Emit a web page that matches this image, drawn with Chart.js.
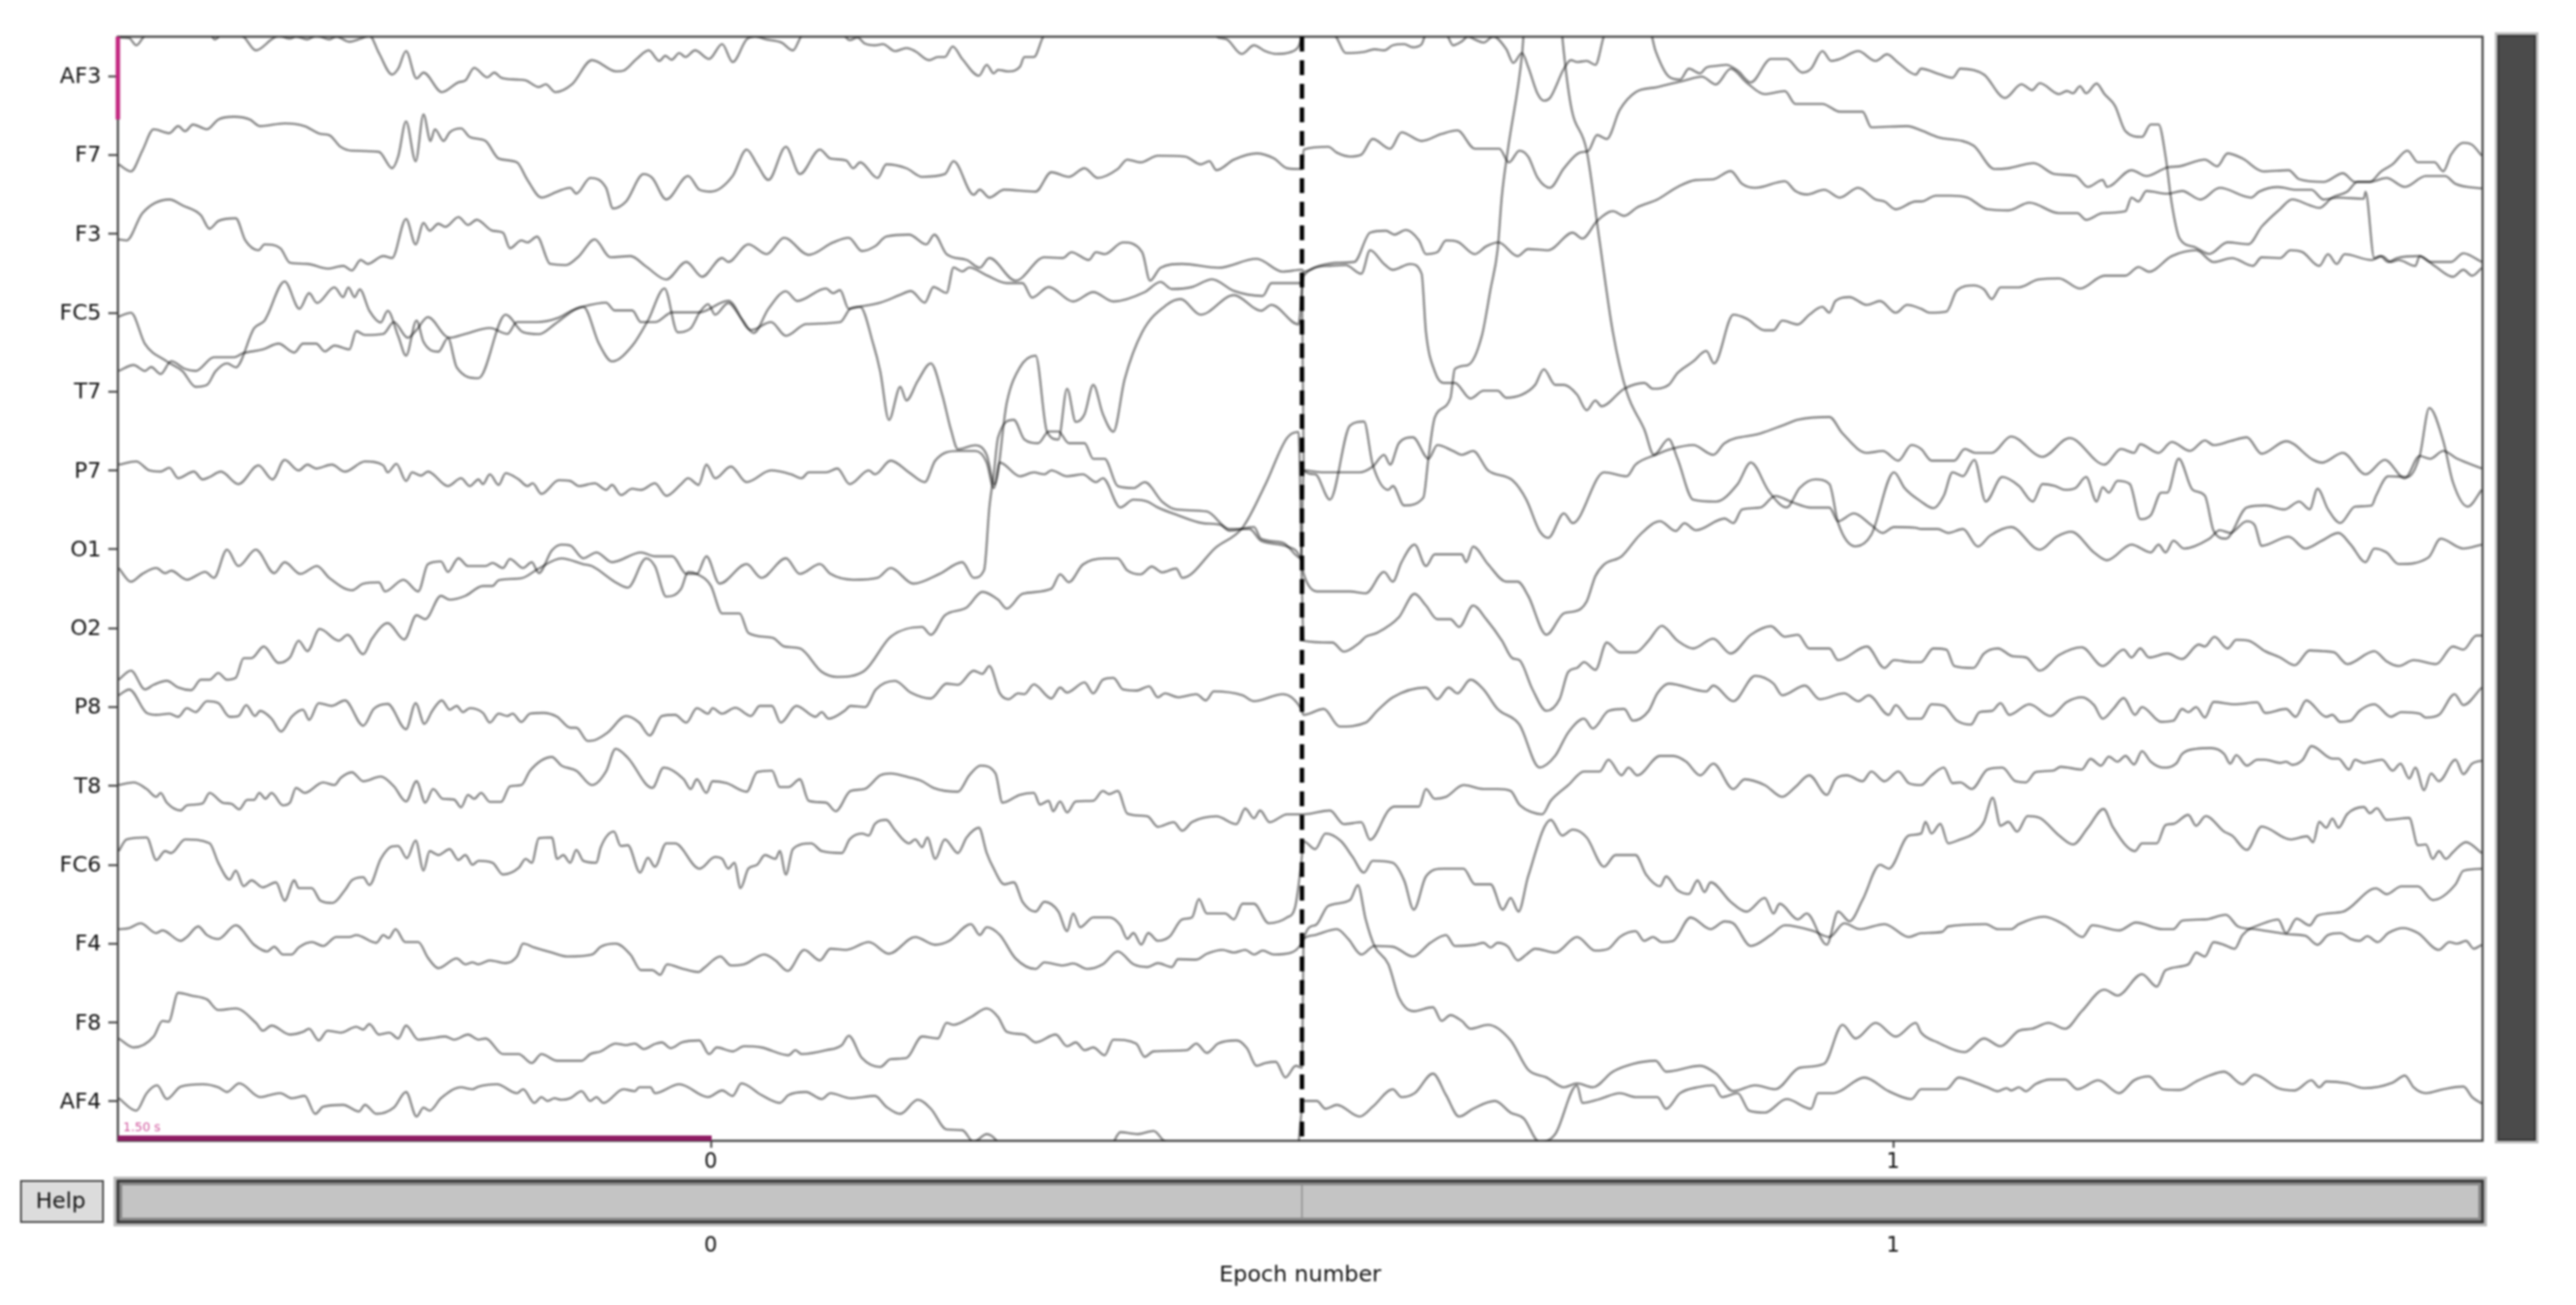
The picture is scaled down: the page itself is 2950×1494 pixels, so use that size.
<!DOCTYPE html>
<html>
<head>
<meta charset="utf-8">
<title>Epochs</title>
<script src="https://cdn.jsdelivr.net/npm/chart.js@4"></script>
<style>
body { margin: 0; background: #fff; width: 2950px; height: 1494px; overflow: hidden; position: relative; font-family: "DejaVu Sans", sans-serif; }
canvas { position: absolute; left: 0; filter: blur(0.9px); }
#eeg { top: 0; }
#slider { top: 1340px; }
#help { position: absolute; left: 23px; top: 1351px; width: 89px; height: 45px; line-height: 43px; padding-right: 3px; background: #dcdcdc; border: 2px solid #444; text-align: center; font-size: 25px; color: #111; filter: blur(0.8px); }
#scroll { position: absolute; left: 2860px; top: 40px; width: 40px; height: 1262px; background: #4b4b4b; border: 2px solid #333; outline: 3px solid #bdbdbd; filter: blur(0.9px); }
</style>
</head>
<body>
<canvas id="eeg" width="2950" height="1340"></canvas>
<canvas id="slider" width="2950" height="154"></canvas>
<div id="help">Help</div>
<div id="scroll"></div>
<script>
// traces are [sample, uV] pairs, sample rate about 451/s, 2 epochs of 3 s
var channels = ["AF3","F7","F3","FC5","T7","P7","O1","O2","P8","T8","FC6","F4","F8","AF4"];
var epochLabels = ["0","1"];
var epochCenters = [679, 2033];
var epochBoundary = 1356;
var totalSamples = 2708;
var scaleBarSamples = 680;
var scaleBarUv = 212;
var scaleBarText = "1.50 s";
var channelStep = 202.2;

var AF3 = [[1,99],[13,97],[21,79],[31,104],[41,109],[105,109],[111,94],[120,109],[143,102],[158,66],[176,94],[184,104],[197,96],[204,102],[217,94],[227,104],[242,94],[250,102],[265,88],[278,96],[288,104],[299,59],[314,4],[321,19],[330,64],[342,-6],[350,9],[371,-41],[390,-16],[398,-11],[408,21],[423,-3],[431,9],[439,-4],[457,-9],[467,-11],[482,-28],[490,-21],[501,-41],[520,-21],[543,41],[571,12],[579,14],[594,44],[608,66],[620,39],[627,52],[634,42],[643,59],[650,49],[661,66],
[664,64],[677,44],[692,82],[704,36],[720,94],[730,102],[743,94],[760,86],[773,66],[784,104],[829,109],[838,92],[847,99],[855,84],[867,79],[876,82],[890,64],[903,72],[913,64],[929,41],[939,49],[947,49],[956,76],[967,44],[986,1],[995,29],[1003,7],[1008,16],[1020,12],[1033,24],[1038,49],[1049,49],[1060,102],[1069,114],[1253,114],[1260,99],[1270,94],[1287,57],[1301,79],[1314,64],[1326,57],[1342,61],[1352,76],[1356,102],
[1357,109],[1386,114],[1395,101],[1406,59],[1427,62],[1439,69],[1450,66],[1460,79],[1473,82],[1483,74],[1493,82],[1498,106],[1521,106],[1529,79],[1539,89],[1546,102],[1554,94],[1564,86],[1575,102],[1590,69],[1598,34],[1608,59],[1615,24],[1626,-46],[1633,-63],[1640,-56],[1656,19],[1664,41],[1671,36],[1682,39],[1692,29],[1702,104],[1707,124],[1753,124],[1761,64],[1776,-1],[1789,-9],[1799,19],[1812,7],[1819,22],[1830,26],[1842,29],[1855,14],[1870,-16],[1893,44],[1911,44],[1929,9],[1939,19],[1952,64],[1962,39],[1972,44],[1993,64],[2013,39],[2026,56],[2039,34],[2059,4],
[2065,19],[2087,4],[2101,-4],[2110,19],[2137,4],[2161,-56],[2180,-21],[2192,-36],[2201,-18],[2223,-46],[2232,-38],[2239,-44],[2247,-26],[2254,-44],[2266,-19],[2275,-46],[2287,-76],[2299,-141],[2318,-156],[2328,-124],[2337,-124],[2345,-206],[2352,-326],[2361,-416],[2378,-438],[2395,-456],[2416,-426],[2440,-431],[2455,-386],[2476,-341],[2490,-316],[2510,-331],[2521,-338],[2536,-311],[2553,-296],[2565,-271],[2579,-271],[2591,-246],[2605,-226],[2622,-191],[2634,-221],[2653,-221],[2663,-244],[2672,-201],[2686,-171],[2696,-176],[2707,-204]];

var F7 = [[1,-24],[15,-42],[28,11],[41,66],[59,56],[69,74],[77,61],[86,78],[102,66],[115,91],[133,98],[151,91],[163,74],[191,81],[214,74],[232,54],[242,51],[255,21],[268,11],[299,8],[314,-34],[321,-4],[330,86],[341,-16],[350,104],[358,36],[363,66],[373,36],[380,58],[393,68],[403,46],[421,36],[436,-9],[457,-19],[469,-64],[485,-109],[503,-94],[518,-84],[525,-99],[541,-59],[559,-84],[567,-137],[582,-119],[602,-49],[612,-59],
[628,-114],[653,-54],[666,-89],[679,-94],[704,-54],[720,14],[732,-24],[745,-64],[765,21],[781,-49],[804,14],[816,-9],[834,-14],[842,-34],[850,-19],[870,-59],[880,-24],[903,-34],[921,-56],[947,-49],[957,-16],[980,-102],[987,-89],[998,-109],[1015,-89],[1051,-94],[1069,-44],[1089,-56],[1107,-34],[1122,-59],[1145,-36],[1156,-12],[1171,-19],[1191,-2],[1222,-4],[1240,-24],[1250,-16],[1258,-39],[1278,-12],[1304,4],[1324,-9],[1339,-34],[1356,-36],
[1358,14],[1386,21],[1396,6],[1411,-4],[1424,1],[1437,41],[1457,16],[1470,58],[1493,36],[1516,54],[1534,63],[1554,16],[1582,16],[1593,-19],[1605,11],[1615,-4],[1626,-59],[1640,-84],[1656,-34],[1674,6],[1684,11],[1694,51],[1705,41],[1720,116],[1738,161],[1763,174],[1794,191],[1814,201],[1830,181],[1847,221],[1865,186],[1886,156],[1909,164],[1921,131],[1952,131],[1972,111],[1998,111],[2008,71],[2049,74],
[2065,63],[2084,46],[2125,24],[2149,-36],[2165,-34],[2194,-21],[2218,-49],[2242,-54],[2256,-82],[2273,-64],[2278,-82],[2306,-39],[2323,-54],[2347,-32],[2361,-29],[2390,-12],[2404,-29],[2416,4],[2433,-9],[2457,-42],[2486,-39],[2498,-62],[2526,-69],[2548,-47],[2562,-69],[2579,-69],[2598,-59],[2619,-82],[2643,-54],[2665,-54],[2677,-74],[2707,-86]];

var F3 = [[1,-14],[10,-17],[28,53],[59,88],[74,73],[95,48],[105,13],[115,33],[135,40],[146,-17],[161,-42],[168,-27],[186,-37],[197,-74],[217,-77],[240,-89],[258,-82],[268,-94],[278,-67],[286,-77],[304,-57],[314,-62],[330,38],[341,-27],[350,28],[357,8],[367,26],[375,18],[390,43],[401,23],[411,36],[429,8],[441,3],[449,-37],[462,-17],[469,-22],[480,-7],[495,-77],[513,-80],[528,-57],[546,-14],[564,-60],[587,-57],[605,-84],
[628,-117],[651,-72],[669,-110],[692,-62],[699,-72],[722,-27],[743,-52],[763,-10],[791,-54],[819,-22],[837,-10],[852,-44],[867,-32],[880,-7],[906,-2],[926,-27],[935,-2],[949,-52],[972,-67],[987,-87],[998,-62],[1028,-120],[1061,-60],[1082,-62],[1092,-47],[1112,-67],[1120,-47],[1130,-52],[1151,-22],[1173,-47],[1182,-120],[1194,-87],[1219,-77],[1260,-87],[1304,-64],[1334,-97],[1356,-92],
[1358,-97],[1376,-82],[1396,-74],[1416,-72],[1434,3],[1452,8],[1462,-2],[1475,10],[1490,-17],[1498,-52],[1511,-47],[1521,-17],[1534,-20],[1554,-52],[1567,-32],[1581,-22],[1603,-57],[1615,-39],[1638,-42],[1666,3],[1677,-12],[1694,33],[1712,58],[1725,46],[1740,68],[1763,88],[1786,120],[1807,138],[1827,140],[1847,161],[1860,128],[1875,118],[1909,135],[1921,110],[1934,101],[1954,113],[1972,93],[1993,118],[2013,88],[2023,83],[2036,63],[2059,83],
[2065,83],[2082,98],[2098,98],[2118,93],[2141,63],[2165,60],[2189,80],[2223,53],[2244,53],[2254,36],[2273,53],[2299,58],[2306,93],[2314,83],[2323,110],[2347,103],[2364,110],[2385,88],[2407,118],[2443,93],[2452,108],[2474,120],[2495,113],[2512,113],[2526,88],[2543,93],[2572,90],[2574,108],[2584,-62],[2591,-57],[2600,-72],[2610,-62],[2636,-57],[2648,-72],[2672,-72],[2686,-50],[2707,-72]];

var FC5 = [[1,-10],[15,0],[31,-80],[56,-125],[74,-150],[89,-190],[102,-185],[112,-150],[125,-130],[135,-140],[156,-40],[168,-20],[191,80],[208,10],[219,50],[228,25],[248,65],[258,40],[264,65],[271,40],[277,60],[288,5],[301,-25],[309,5],[321,-60],[330,-110],[342,-20],[350,-75],[367,-100],[378,-65],[388,-140],[413,-168],[444,-5],[464,-50],[482,-55],[500,-30],[525,10],[533,15],[551,-80],[566,-125],[589,-85],[607,-20],
[626,62],[641,-50],[656,-40],[666,0],[676,22],[684,-5],[699,25],[714,-15],[728,-52],[745,10],[765,55],[778,30],[811,62],[819,50],[827,58],[837,10],[850,15],[865,-80],[873,-150],[883,-275],[896,-190],[903,-225],[916,-175],[931,-130],[944,-210],[954,-300],[962,-350],[982,-340],[995,-365],[1004,-440],[1018,-230],[1033,-140],[1051,-110],[1064,-305],[1077,-325],[1087,-195],[1097,-280],[1107,-260],[1117,-185],[1128,-260],[1140,-305],[1153,-170],[1173,-50],[1201,20],[1217,35],[1240,-5],[1278,45],[1309,5],[1321,20],[1352,-30],
[1358,95],[1386,120],[1406,122],[1424,100],[1434,160],[1450,125],[1460,110],[1480,125],[1493,100],[1498,-50],[1508,-150],[1518,-180],[1531,-180],[1549,-220],[1564,-200],[1580,-200],[1590,-218],[1608,-210],[1623,-185],[1633,-145],[1646,-185],[1656,-185],[1671,-210],[1682,-250],[1692,-225],[1699,-240],[1725,-195],[1748,-180],[1758,-195],[1776,-185],[1786,-155],[1804,-125],[1819,-98],[1828,-130],[1850,-5],[1865,-15],[1886,-45],[1896,-45],[1906,-20],[1924,-30],[1937,-5],[1952,15],[1960,0],[1967,30],[1983,40],[2003,20],[2018,30],[2036,0],[2049,20],
[2065,10],[2075,0],[2094,3],[2106,57],[2125,70],[2137,60],[2146,35],[2156,65],[2177,65],[2199,85],[2223,88],[2247,62],[2275,95],[2299,95],[2314,117],[2326,105],[2352,145],[2380,160],[2400,130],[2421,140],[2445,120],[2455,142],[2476,140],[2488,160],[2502,155],[2521,120],[2531,150],[2541,125],[2550,150],[2581,135],[2593,145],[2603,130],[2612,135],[2631,120],[2636,145],[2653,120],[2674,92],[2686,110],[2696,95],[2707,115]];

var T7 = [[1,53],[18,68],[31,53],[38,63],[49,45],[61,78],[77,58],[89,53],[110,88],[133,88],[143,98],[166,108],[184,123],[202,100],[212,123],[227,123],[237,103],[248,118],[265,108],[273,155],[283,145],[304,148],[316,178],[332,138],[342,158],[355,191],[375,143],[380,138],[398,148],[426,163],[446,148],[457,178],[480,178],[503,188],[520,208],[533,218],[559,228],[569,208],[589,208],[599,178],[615,178],
[635,203],[666,203],[699,233],[725,158],[748,178],[765,143],[788,173],[827,178],[839,213],[850,218],[873,228],[896,248],[908,258],[924,228],[934,268],[949,253],[957,318],[967,308],[975,318],[995,298],[1018,278],[1036,278],[1047,241],[1066,268],[1094,231],[1117,255],[1140,231],[1176,255],[1194,281],[1207,263],[1230,268],[1253,288],[1278,258],[1311,245],[1321,278],[1356,278],
[1358,-202],[1371,-212],[1388,-277],[1411,-87],[1427,-77],[1437,-187],[1455,-252],[1460,-242],[1473,-292],[1495,-272],[1501,-167],[1508,-67],[1526,-17],[1531,58],[1546,68],[1562,143],[1572,263],[1580,363],[1585,503],[1592,623],[1608,863],[1613,1000],[1651,1000],[1654,913],[1664,733],[1682,618],[1697,383],[1712,153],[1728,-2],[1748,-97],[1759,-162],[1776,-122],[1786,-172],[1804,-277],[1830,-282],[1855,-237],[1870,-182],[1891,-257],[1911,-297],[1926,-247],[1944,-225],[1960,-237],[1970,-337],[1990,-397],[2008,-367],[2034,-207],[2046,-247],
[2065,-282],[2079,-299],[2091,-267],[2101,-207],[2113,-217],[2126,-175],[2139,-282],[2158,-219],[2177,-242],[2193,-282],[2204,-237],[2218,-242],[2230,-252],[2242,-247],[2254,-219],[2266,-282],[2273,-245],[2280,-259],[2290,-229],[2304,-237],[2316,-327],[2328,-317],[2340,-259],[2347,-259],[2360,-172],[2376,-252],[2390,-267],[2400,-357],[2414,-377],[2438,-297],[2459,-292],[2481,-302],[2498,-282],[2510,-302],[2519,-249],[2531,-302],[2545,-337],[2562,-295],[2581,-292],[2586,-267],[2600,-217],[2622,-219],[2636,-165],[2647,-42],[2663,-127],[2674,-232],[2691,-295],[2707,-252]];

var P7 = [[1,15],[21,23],[36,0],[49,-3],[59,7],[69,-20],[87,-3],[97,-23],[105,-17],[118,-3],[138,-35],[161,13],[177,-23],[191,27],[207,0],[217,15],[227,5],[245,15],[260,-3],[283,23],[304,13],[309,-5],[319,17],[330,-27],[337,-5],[347,-13],[355,-3],[378,-40],[393,-20],[403,-40],[413,-23],[418,-35],[426,-10],[436,-37],[444,-7],[459,-23],[469,-40],[475,-33],[485,-60],[505,-25],[518,-27],[528,-40],[546,-33],[559,-50],[566,-37],[576,-63],[589,-47],[599,-50],[615,-33],[628,-65],[645,-35],[653,-20],[665,-37],
[674,15],[684,-20],[702,10],[720,-30],[748,0],[771,-10],[783,-20],[791,-5],[811,-5],[824,5],[838,-35],[860,0],[867,-10],[885,25],[906,-5],[924,-30],[936,25],[962,50],[982,50],[995,20],[1003,-45],[1010,20],[1033,-15],[1049,-5],[1061,-10],[1069,0],[1087,-15],[1105,-10],[1120,-30],[1128,-20],[1148,-95],[1163,-75],[1179,-80],[1191,-95],[1214,-115],[1242,-135],[1263,-140],[1273,-155],[1301,-145],[1309,-175],[1334,-185],[1355,-225],
[1358,0],[1381,-5],[1422,-5],[1437,10],[1450,40],[1457,15],[1467,70],[1483,85],[1501,30],[1511,65],[1529,50],[1539,40],[1552,50],[1569,0],[1597,-25],[1613,-75],[1628,-155],[1638,-173],[1656,-110],[1666,-135],[1702,-5],[1728,-15],[1738,15],[1761,40],[1779,55],[1804,65],[1827,40],[1840,70],[1881,95],[1906,115],[1924,130],[1960,137],[1975,95],[2003,45],[2021,50],[2039,25],[2054,65],
[2065,55],[2077,25],[2103,25],[2115,55],[2127,45],[2146,45],[2168,87],[2204,35],[2235,83],[2275,15],[2294,55],[2309,45],[2316,67],[2337,45],[2352,73],[2373,50],[2390,77],[2400,65],[2419,75],[2438,85],[2455,43],[2483,75],[2514,27],[2524,20],[2548,45],[2574,-10],[2596,27],[2619,-20],[2636,37],[2648,30],[2663,50],[2679,30],[2707,5]];

var O1 = [[1,-48],[15,-83],[28,-63],[44,-48],[54,-61],[61,-55],[79,-78],[100,-58],[110,-73],[125,-1],[138,-43],[158,-1],[179,-61],[191,-33],[209,-63],[228,-43],[242,-73],[268,-105],[281,-88],[299,-85],[306,-108],[327,-78],[344,-108],[355,-38],[370,-31],[378,-58],[390,-23],[401,-43],[421,-43],[429,-35],[441,-48],[449,-25],[464,-48],[474,-33],[482,-61],[497,-3],[508,12],[518,10],[533,-23],[548,-8],[566,-33],[599,-8],[615,-18],
[635,-18],[651,-63],[663,-63],[674,-18],[689,-88],[720,-38],[737,-73],[765,-23],[781,-63],[804,-38],[816,-63],[842,-78],[870,-73],[885,-48],[911,-88],[941,-63],[967,-33],[980,-73],[992,-53],[998,107],[1003,192],[1008,287],[1026,332],[1038,282],[1054,272],[1066,302],[1077,302],[1089,272],[1107,272],[1117,232],[1130,232],[1145,162],[1163,157],[1176,172],[1196,122],[1212,102],[1247,97],[1273,52],[1296,52],[1309,22],[1339,7],[1355,-28],
[1358,-63],[1373,-108],[1411,-108],[1429,-113],[1450,-58],[1460,-83],[1470,-33],[1485,12],[1498,-43],[1508,-13],[1539,-13],[1544,-33],[1552,7],[1569,-38],[1590,-83],[1603,-83],[1615,-119],[1636,-219],[1656,-164],[1669,-159],[1682,-134],[1692,-69],[1702,-39],[1722,-18],[1743,37],[1766,72],[1784,47],[1794,67],[1807,49],[1840,79],[1850,67],[1860,102],[1881,107],[1898,137],[1916,122],[1939,107],[1960,107],[1970,72],[1988,92],[2008,62],[2021,42],[2034,57],[2059,55],
[2065,52],[2084,52],[2096,42],[2113,52],[2130,7],[2144,35],[2168,57],[2201,-1],[2220,32],[2237,45],[2263,-8],[2278,-28],[2306,12],[2328,-8],[2337,12],[2345,-8],[2354,22],[2366,2],[2395,27],[2407,49],[2419,42],[2438,72],[2447,62],[2455,9],[2486,32],[2505,2],[2524,22],[2543,42],[2557,12],[2574,-33],[2584,2],[2598,-8],[2612,-38],[2646,-21],[2660,27],[2686,2],[2707,12]];

var O2 = [[1,-132],[15,-109],[31,-157],[41,-145],[56,-135],[69,-152],[84,-159],[95,-132],[105,-132],[115,-115],[125,-132],[135,-127],[144,-77],[153,-77],[167,-47],[184,-89],[197,-75],[207,-32],[217,-59],[231,-2],[253,-32],[263,-17],[281,-67],[291,-27],[309,13],[328,-29],[342,33],[352,23],[370,83],[380,73],[398,83],[418,108],[429,108],[436,123],[462,128],[482,153],[508,179],[533,164],[543,159],[569,119],[584,104],[605,179],[615,159],[628,81],[645,101],[653,144],
[663,139],[679,109],[692,38],[712,38],[722,-12],[750,-25],[763,-47],[781,-52],[806,-112],[824,-125],[855,-109],[885,-22],[921,3],[931,-17],[947,33],[972,53],[990,93],[1008,73],[1018,50],[1036,88],[1069,101],[1079,138],[1089,118],[1105,163],[1130,179],[1145,179],[1156,148],[1171,138],[1184,158],[1196,143],[1212,153],[1219,129],[1258,208],[1288,258],[1314,368],[1339,488],[1352,503],
[1358,-32],[1391,-37],[1404,-60],[1422,-37],[1429,-22],[1442,-12],[1467,28],[1485,88],[1498,58],[1511,23],[1526,23],[1536,3],[1552,58],[1567,23],[1585,-32],[1597,-77],[1605,-82],[1620,-157],[1636,-212],[1651,-182],[1661,-112],[1671,-102],[1679,-87],[1692,-107],[1705,-37],[1720,-62],[1738,-62],[1753,-32],[1768,6],[1786,-32],[1804,-52],[1827,-27],[1847,-65],[1870,-17],[1893,5],[1909,-22],[1924,-17],[1937,-52],[1960,-52],[1970,-82],[2003,-47],[2023,-102],[2034,-82],[2054,-87],
[2065,-87],[2079,-52],[2094,-55],[2103,-97],[2125,-102],[2137,-65],[2153,-52],[2170,-72],[2185,-75],[2201,-109],[2223,-69],[2249,-49],[2273,-97],[2297,-55],[2306,-75],[2316,-52],[2326,-75],[2347,-65],[2364,-79],[2383,-42],[2390,-47],[2401,-22],[2416,-52],[2426,-30],[2440,-32],[2459,-59],[2476,-75],[2493,-95],[2510,-57],[2526,-59],[2538,-62],[2553,-92],[2584,-59],[2598,-85],[2612,-97],[2629,-82],[2655,-92],[2674,-47],[2686,-55],[2701,-19],[2707,-19]];

var P8 = [[1,30],[13,45],[33,-15],[44,-20],[59,-17],[69,-25],[79,-3],[89,-13],[102,15],[115,10],[128,-25],[138,-23],[147,5],[157,-23],[163,-10],[176,-30],[187,-63],[199,-25],[212,-7],[219,-33],[230,10],[245,3],[260,17],[281,-48],[293,-5],[309,8],[330,-57],[341,10],[351,-43],[360,-10],[371,17],[380,-7],[388,3],[395,-13],[403,-3],[418,-15],[426,-40],[436,-17],[446,-23],[452,-17],[462,-38],[472,-17],[487,-15],[503,-25],[518,-53],[525,-53],[538,-87],[546,-85],[561,-65],[582,-23],[597,-40],[609,-73],
[623,-23],[638,-20],[651,-40],[663,-3],[676,-17],[681,-3],[692,-17],[707,-2],[725,-23],[735,3],[749,3],[759,-40],[777,3],[799,-25],[806,-13],[814,-30],[832,-10],[839,3],[856,0],[868,45],[890,67],[908,37],[931,22],[949,60],[962,57],[980,93],[990,85],[998,105],[1010,35],[1020,20],[1031,35],[1038,33],[1049,58],[1069,22],[1079,50],[1087,37],[1107,63],[1117,35],[1128,70],[1140,75],[1151,45],[1166,42],[1181,53],[1191,25],[1199,35],[1214,25],[1235,33],[1246,17],[1255,40],[1288,30],[1301,15],[1334,33],[1344,25],[1355,-5],
[1358,-20],[1381,-5],[1399,-50],[1429,-40],[1442,-10],[1460,25],[1498,50],[1511,20],[1524,50],[1534,35],[1549,70],[1564,45],[1580,-5],[1605,-45],[1628,-155],[1646,-125],[1661,-65],[1679,-30],[1689,-55],[1707,-10],[1725,-5],[1735,-35],[1753,-10],[1763,35],[1776,60],[1819,40],[1827,55],[1850,15],[1875,80],[1896,60],[1906,30],[1932,55],[1949,20],[1977,35],[1993,15],[2005,30],[2028,-20],[2036,5],[2051,-30],
[2065,-30],[2077,7],[2091,3],[2106,-35],[2122,-45],[2132,-13],[2146,-10],[2156,10],[2166,-20],[2189,7],[2213,-23],[2232,13],[2249,25],[2263,5],[2273,-30],[2285,-5],[2297,23],[2310,-20],[2318,0],[2340,-38],[2354,-35],[2364,-5],[2371,-13],[2380,0],[2390,-27],[2400,13],[2424,7],[2450,12],[2459,-15],[2483,-5],[2494,-25],[2506,17],[2529,-25],[2536,-20],[2545,-38],[2557,-35],[2567,-10],[2584,7],[2603,-25],[2615,-13],[2636,-17],[2643,-27],[2658,-20],[2676,33],[2686,5],[2707,50]];

var T8 = [[1,2],[18,9],[33,-8],[44,-28],[49,-18],[56,-43],[72,-63],[79,-50],[97,-45],[105,-18],[120,-43],[130,-46],[139,-60],[148,-36],[156,-36],[162,-18],[169,-33],[176,-18],[189,-50],[197,-43],[204,-5],[214,-18],[235,9],[248,2],[255,20],[268,35],[281,12],[301,24],[316,-1],[330,-40],[342,12],[352,-43],[361,-8],[372,-33],[385,-35],[393,-55],[401,-23],[408,-33],[416,-18],[426,-41],[439,-41],[449,-1],[462,2],[472,39],[497,74],[508,52],[525,39],[543,2],[559,37],[570,95],[584,72],[612,-5],
[625,47],[648,17],[656,-8],[663,17],[674,-18],[681,12],[697,7],[720,-15],[732,35],[749,39],[758,-3],[768,-3],[781,17],[791,-38],[811,-43],[822,-65],[839,-13],[855,-8],[873,27],[885,32],[906,22],[921,12],[934,-5],[962,-15],[975,27],[988,52],[1005,32],[1013,-43],[1033,-23],[1049,-18],[1056,-48],[1066,-38],[1071,-65],[1079,-40],[1087,-68],[1097,-40],[1117,-38],[1128,-13],[1135,-21],[1145,-13],[1156,-71],[1179,-78],[1191,-105],[1209,-93],[1219,-115],[1230,-93],[1258,-78],[1281,-98],[1291,-58],[1301,-83],[1308,-63],[1319,-93],[1339,-73],[1356,-73],
[1358,-73],[1388,-63],[1404,-98],[1424,-93],[1434,-138],[1455,-63],[1462,-53],[1490,-53],[1498,-8],[1508,-33],[1521,-28],[1541,2],[1564,-8],[1580,-8],[1595,-13],[1605,-48],[1620,-68],[1631,-73],[1641,-38],[1661,2],[1679,37],[1697,37],[1707,67],[1722,27],[1730,47],[1740,27],[1766,77],[1781,77],[1796,62],[1812,27],[1827,57],[1850,-8],[1863,17],[1886,2],[1906,-28],[1921,-3],[1937,27],[1957,-23],[1967,17],[1980,27],[1998,12],[2008,37],[2023,12],[2039,37],[2051,7],
[2065,2],[2077,27],[2091,47],[2101,7],[2110,9],[2123,-8],[2141,42],[2158,47],[2173,12],[2185,9],[2196,35],[2216,39],[2225,49],[2249,42],[2259,69],[2271,52],[2280,75],[2290,62],[2299,77],[2309,55],[2318,89],[2328,62],[2342,47],[2357,57],[2364,82],[2380,95],[2397,97],[2412,82],[2419,57],[2426,79],[2438,52],[2450,67],[2459,67],[2476,59],[2483,62],[2490,54],[2502,67],[2512,102],[2536,70],[2543,70],[2555,42],[2562,67],[2572,59],[2593,67],[2605,39],[2614,57],[2624,19],[2631,47],[2641,-11],[2649,32],[2658,12],[2677,67],[2686,30],[2696,57],[2707,65]];

var FC6 = [[1,35],[10,65],[33,70],[44,12],[54,35],[61,30],[77,65],[105,55],[115,5],[128,-38],[135,-15],[144,-55],[153,-40],[166,-58],[181,-45],[191,-92],[202,-40],[207,-60],[222,-60],[232,-92],[246,-98],[260,-65],[268,-40],[281,-32],[288,-52],[301,15],[314,47],[321,48],[331,17],[341,62],[350,-15],[357,35],[367,25],[380,40],[390,12],[398,25],[406,0],[413,10],[429,5],[441,-25],[459,-8],[467,15],[474,5],[482,68],[497,70],[503,15],[510,25],[518,5],[525,38],[533,10],[548,5],[553,45],[568,85],[576,48],[584,50],[598,-20],[607,18],[615,-5],
[628,55],[638,55],[666,-10],[684,20],[692,15],[699,-10],[706,5],[713,-60],[722,-10],[732,0],[741,25],[753,15],[758,35],[765,-25],[773,40],[794,55],[806,35],[829,30],[838,65],[852,80],[860,75],[867,105],[880,115],[890,88],[906,55],[913,65],[921,45],[927,70],[936,15],[947,65],[962,30],[972,70],[986,95],[995,30],[1003,-10],[1015,-50],[1026,-45],[1036,-95],[1051,-120],[1061,-95],[1077,-120],[1087,-170],[1094,-125],[1102,-160],[1117,-135],[1135,-135],[1148,-155],[1156,-190],[1163,-175],[1172,-205],[1180,-175],[1191,-195],[1204,-185],[1219,-140],[1230,-135],[1238,-88],[1247,-125],[1268,-125],[1278,-140],[1288,-100],[1301,-100],[1318,-150],[1339,-135],[1348,-110],[1355,0],
[1358,60],[1371,40],[1383,80],[1401,60],[1414,20],[1427,-20],[1437,10],[1460,5],[1473,-40],[1484,-115],[1498,-30],[1518,-10],[1541,-10],[1554,-50],[1572,-50],[1586,-115],[1595,-85],[1604,-120],[1615,-30],[1641,115],[1654,75],[1666,90],[1682,70],[1702,-5],[1715,25],[1738,25],[1750,-25],[1766,-55],[1773,-30],[1786,-65],[1799,-75],[1809,-40],[1817,-70],[1824,-45],[1847,-95],[1865,-120],[1886,-85],[1896,-125],[1903,-100],[1924,-140],[1934,-125],[1957,-205],[1970,-120],[1983,-145],[1998,-90],[2018,0],[2028,-10],[2051,75],
[2065,80],[2070,110],[2077,80],[2087,105],[2096,55],[2110,65],[2125,80],[2137,110],[2147,172],[2156,100],[2165,110],[2175,85],[2187,125],[2201,120],[2223,75],[2239,52],[2256,95],[2274,143],[2285,95],[2310,35],[2318,55],[2335,55],[2345,102],[2354,105],[2371,128],[2380,100],[2391,125],[2412,85],[2421,75],[2438,38],[2455,98],[2488,65],[2507,73],[2514,58],[2521,110],[2529,95],[2536,118],[2543,95],[2553,130],[2572,148],[2579,132],[2587,145],[2598,115],[2624,120],[2634,50],[2643,52],[2651,15],[2658,35],[2666,15],[2674,32],[2689,58],[2707,30]];

var F4 = [[1,37],[13,40],[26,52],[44,27],[51,34],[72,7],[79,17],[92,44],[102,22],[115,12],[135,47],[156,-3],[171,-20],[179,-8],[189,-28],[199,-28],[207,-10],[222,4],[235,-6],[250,17],[265,17],[273,22],[296,2],[304,22],[310,14],[318,37],[329,4],[344,4],[355,-36],[367,-63],[388,-38],[398,-53],[406,-48],[413,-53],[426,-43],[444,-50],[457,-33],[464,0],[477,-10],[497,-23],[515,-33],[543,-28],[553,-8],[570,0],[587,-28],[599,-68],[612,-68],[621,-80],[629,-53],[645,-63],[665,-73],
[671,-63],[690,-33],[702,-56],[717,-53],[740,-28],[753,-43],[767,-70],[786,-16],[804,-43],[816,-13],[834,-16],[860,4],[883,-26],[913,17],[936,-3],[952,7],[977,50],[987,22],[995,42],[1010,22],[1028,-38],[1051,-65],[1061,-48],[1082,-56],[1094,-51],[1110,-65],[1128,-53],[1145,-20],[1163,-53],[1179,-60],[1191,-50],[1207,-60],[1214,-40],[1235,-41],[1247,-26],[1265,-16],[1278,-23],[1291,-16],[1301,-28],[1311,-18],[1324,-28],[1344,-23],[1356,2],
[1358,12],[1371,22],[1396,37],[1409,12],[1424,-28],[1439,-6],[1460,-8],[1483,-33],[1503,2],[1521,22],[1531,-6],[1554,-3],[1564,2],[1572,-10],[1580,2],[1592,-8],[1603,-43],[1613,-28],[1623,-13],[1646,-23],[1671,17],[1692,-18],[1707,-13],[1720,17],[1738,32],[1748,7],[1758,17],[1768,4],[1781,7],[1801,67],[1824,37],[1840,57],[1850,52],[1870,-6],[1893,22],[1909,47],[1942,32],[1960,17],[1977,52],[1995,37],[2023,50],[2051,17],
[2065,27],[2089,30],[2096,44],[2139,50],[2153,37],[2168,37],[2177,50],[2206,69],[2230,47],[2250,17],[2261,47],[2292,34],[2311,54],[2342,37],[2354,37],[2364,59],[2390,62],[2414,74],[2428,44],[2447,37],[2462,32],[2486,24],[2505,20],[2519,-3],[2531,22],[2545,27],[2557,12],[2567,7],[2576,19],[2588,4],[2600,27],[2617,40],[2634,27],[2658,-16],[2670,4],[2679,0],[2689,7],[2698,-13],[2707,-3]];

var F8 = [[1,-41],[18,-64],[41,-36],[51,4],[58,2],[69,76],[84,69],[102,59],[115,32],[135,36],[158,-1],[166,-21],[176,-8],[197,-31],[212,-24],[219,-16],[230,-46],[240,-21],[255,-26],[273,-11],[281,-18],[288,-4],[299,-31],[311,-26],[321,-41],[330,-8],[344,-44],[357,-41],[375,-36],[385,-44],[401,-31],[413,-44],[421,-41],[441,-81],[459,-81],[474,-104],[485,-81],[503,-98],[531,-98],[541,-81],[553,-74],[570,-54],[582,-58],[592,-54],[602,-68],[615,-55],
[623,-51],[633,-66],[646,-51],[666,-46],[677,-81],[686,-64],[704,-74],[717,-61],[737,-64],[768,-84],[776,-71],[783,-81],[811,-71],[829,-58],[837,-34],[852,-91],[873,-114],[885,-94],[903,-91],[921,-36],[939,-41],[949,-1],[957,-6],[977,14],[995,36],[1008,14],[1018,-24],[1038,-31],[1051,-51],[1074,-31],[1087,-61],[1097,-51],[1107,-71],[1117,-64],[1130,-84],[1140,-44],[1166,-54],[1176,-88],[1186,-74],[1224,-71],[1235,-54],[1247,-78],[1260,-54],[1281,-46],[1293,-66],[1304,-111],[1314,-104],[1326,-101],[1337,-141],[1349,-111],[1356,-116],
[1358,214],[1371,249],[1386,299],[1411,314],[1420,352],[1429,264],[1439,196],[1455,149],[1467,64],[1483,29],[1506,39],[1516,4],[1526,19],[1539,4],[1549,-16],[1569,-6],[1595,-46],[1615,-121],[1636,-141],[1656,-166],[1671,-156],[1689,-166],[1712,-126],[1735,-106],[1761,-98],[1773,-126],[1812,-111],[1830,-131],[1850,-176],[1875,-161],[1898,-171],[1926,-116],[1954,-106],[1975,-6],[1990,-41],[2013,-1],[2036,-36],[2059,-1],
[2065,-26],[2084,-51],[2115,-76],[2137,-41],[2156,-61],[2177,-21],[2192,-16],[2211,-1],[2230,-16],[2249,29],[2275,84],[2290,69],[2318,124],[2335,92],[2345,134],[2371,149],[2380,179],[2390,169],[2400,206],[2412,199],[2424,189],[2433,224],[2457,254],[2474,264],[2483,229],[2495,266],[2510,249],[2519,274],[2548,284],[2586,344],[2598,329],[2615,349],[2634,349],[2651,314],[2677,354],[2686,389],[2707,394]];

var AF4 = [[1,8],[21,-24],[33,21],[45,41],[56,6],[72,38],[97,44],[115,36],[125,24],[139,46],[163,11],[174,16],[186,21],[199,8],[214,14],[226,-32],[235,-14],[258,-9],[276,-26],[283,-9],[296,-32],[316,-16],[330,24],[342,-39],[350,-16],[357,-24],[370,8],[393,36],[406,31],[413,38],[434,44],[457,21],[464,31],[477,-4],[485,11],[492,1],[500,8],[508,4],[518,8],[531,26],[541,1],[548,11],[556,-4],[579,31],[592,26],[597,36],[610,36],
[615,21],[643,44],[676,11],[692,28],[704,14],[714,46],[737,16],[758,-4],[768,16],[788,24],[806,6],[816,21],[839,8],[867,14],[880,-14],[896,-32],[916,4],[931,-19],[949,-72],[967,-74],[980,-104],[995,-84],[1008,-106],[1018,-150],[1130,-150],[1140,-106],[1148,-79],[1168,-84],[1186,-76],[1199,-102],[1214,-109],[1227,-150],[1349,-150],
[1358,1],[1373,1],[1383,-19],[1396,-9],[1422,-39],[1437,-14],[1460,31],[1470,11],[1485,21],[1506,71],[1521,16],[1536,-39],[1552,-19],[1577,1],[1595,-29],[1610,-44],[1628,-104],[1646,-84],[1671,41],[1677,-4],[1697,6],[1720,21],[1738,11],[1763,11],[1773,-19],[1789,21],[1809,36],[1827,41],[1837,11],[1855,21],[1868,-24],[1886,-29],[1911,6],[1939,-19],[1947,21],[1965,21],[2000,61],[2028,26],[2054,6],
[2065,31],[2094,31],[2108,61],[2127,48],[2141,36],[2153,26],[2163,34],[2168,28],[2177,36],[2185,26],[2196,44],[2213,56],[2230,56],[2244,31],[2268,54],[2292,21],[2309,54],[2326,64],[2342,31],[2361,29],[2380,51],[2395,66],[2412,76],[2433,44],[2447,68],[2474,34],[2493,28],[2512,54],[2521,36],[2529,51],[2553,46],[2572,34],[2605,48],[2619,66],[2629,36],[2643,21],[2663,31],[2686,38],[2696,11],[2707,-6]];

var traces = [AF3,F7,F3,FC5,T7,P7,O1,O2,P8,T8,FC6,F4,F8,AF4];

var yMin = -channelStep / 2;
var yMax = channelStep * (channels.length - 0.5);

var datasets = [];
datasets.push({ data: [{x:epochBoundary,y:yMin},{x:epochBoundary,y:yMax}], borderColor: "#000", borderWidth: 5, borderDash: [17,10] });
datasets.push({ data: [{x:0,y:yMin},{x:0,y:yMin+scaleBarUv}], borderColor: "#c2257f", borderWidth: 5, clip: false });
datasets.push({ data: [{x:0,y:yMax},{x:scaleBarSamples,y:yMax}], borderColor: "#8f1b63", borderWidth: 12 });
traces.forEach(function(trace, k) {
	datasets.push({
		data: trace.map(p => ({ x: p[0], y: k * channelStep - p[1] })),
		borderColor: "rgba(0,0,0,0.46)",
		borderWidth: 2.6,
		cubicInterpolationMode: "monotone",
		borderJoinStyle: "round"
	});
});

const boxPlugin = {
	id: "box",
	beforeDatasetsDraw(c) {
		var a = c.chartArea, ctx = c.ctx;
		ctx.save();
		ctx.strokeStyle = "#444";
		ctx.lineWidth = 2.5;
		ctx.strokeRect(a.left, a.top, a.right-a.left, a.bottom-a.top);
		ctx.restore();
	},
	afterDatasetsDraw(c) {
		var ctx = c.ctx;
		ctx.save();
		ctx.fillStyle = "#d0569c";
		ctx.font = "14px 'DejaVu Sans'";
		ctx.textBaseline = "middle";
		ctx.fillText(scaleBarText, c.scales.x.getPixelForValue(6), c.scales.y.bottom - 15);
		ctx.restore();
	}
};

new Chart(document.getElementById("eeg"), {
	type: "line",
	data: { datasets: datasets },
	plugins: [boxPlugin],
	options: {
		responsive: false,
		animation: false,
		devicePixelRatio: 1,
		layout: { padding: { top: 42, right: 107, left: 0, bottom: 0 } },
		elements: { point: { radius: 0 }, line: { tension: 0 } },
		plugins: { legend: { display: false }, tooltip: { enabled: false } },
		scales: {
			x: {
				type: "linear", min: 0, max: totalSamples,
				afterFit(s) { s.height = 34; },
				afterBuildTicks(s) { s.ticks = epochCenters.map(v => ({ value: v })); },
				border: { display: false },
				grid: { drawOnChartArea: false, tickLength: 8, tickColor: "#333", tickWidth: 2 },
				ticks: { autoSkip: false, maxRotation: 0, padding: 2, color: "#111", font: { family: "DejaVu Sans", size: 24 },
					callback(v) { return epochLabels[epochCenters.indexOf(v)]; } }
			},
			y: {
				type: "linear", reverse: true, min: yMin, max: yMax,
				afterFit(s) { s.width = 135; },
				afterBuildTicks(s) { s.ticks = channels.map((n, i) => ({ value: i * channelStep })); },
				border: { display: false },
				grid: { drawOnChartArea: false, tickLength: 11, tickColor: "#333", tickWidth: 2 },
				ticks: { autoSkip: false, padding: 8, labelOffset: 1.5, color: "#111", font: { family: "DejaVu Sans", size: 25 },
					callback(v) { return channels[Math.round(v / channelStep)]; } }
			}
		}
	}
});

const sliderBox = {
	id: "sliderBox",
	afterDatasetsDraw(c) {
		var a = c.chartArea, ctx = c.ctx;
		ctx.save();
		ctx.strokeStyle = "#bdbdbd";
		ctx.lineWidth = 6;
		ctx.strokeRect(a.left-2, a.top-2, a.right-a.left+4, a.bottom-a.top+4);
		ctx.strokeStyle = "#8a8a8a";
		ctx.lineWidth = 6;
		ctx.strokeRect(a.left+2, a.top+2, a.right-a.left-4, a.bottom-a.top-4);
		ctx.strokeStyle = "#333";
		ctx.lineWidth = 3;
		ctx.strokeRect(a.left, a.top, a.right-a.left, a.bottom-a.top);
		ctx.restore();
	}
};

new Chart(document.getElementById("slider"), {
	type: "line",
	data: { datasets: [
		{ data: [{x:epochBoundary,y:0},{x:epochBoundary,y:1}], borderColor: "#8c8c8c", borderWidth: 1.5 },
		{ data: [{x:0,y:1},{x:totalSamples,y:1}], borderWidth: 0, fill: "origin", backgroundColor: "#c4c4c4" }
	] },
	plugins: [sliderBox],
	options: {
		responsive: false,
		animation: false,
		devicePixelRatio: 1,
		layout: { padding: { top: 12, right: 107, left: 135, bottom: 0 } },
		elements: { point: { radius: 0 }, line: { tension: 0 } },
		plugins: { legend: { display: false }, tooltip: { enabled: false } },
		scales: {
			x: {
				type: "linear", min: 0, max: totalSamples,
				afterFit(s) { s.height = 95; },
				afterBuildTicks(s) { s.ticks = epochCenters.map(v => ({ value: v })); },
				border: { display: false },
				grid: { display: false },
				ticks: { autoSkip: false, maxRotation: 0, padding: 5, color: "#111", font: { family: "DejaVu Sans", size: 24 },
					callback(v) { return epochLabels[epochCenters.indexOf(v)]; } },
				title: { display: true, text: "Epoch number", color: "#111", font: { family: "DejaVu Sans", size: 25.5 }, padding: { top: 0, bottom: 18 } }
			},
			y: { display: false, min: 0, max: 1 }
		}
	}
});
</script>
</body>
</html>
